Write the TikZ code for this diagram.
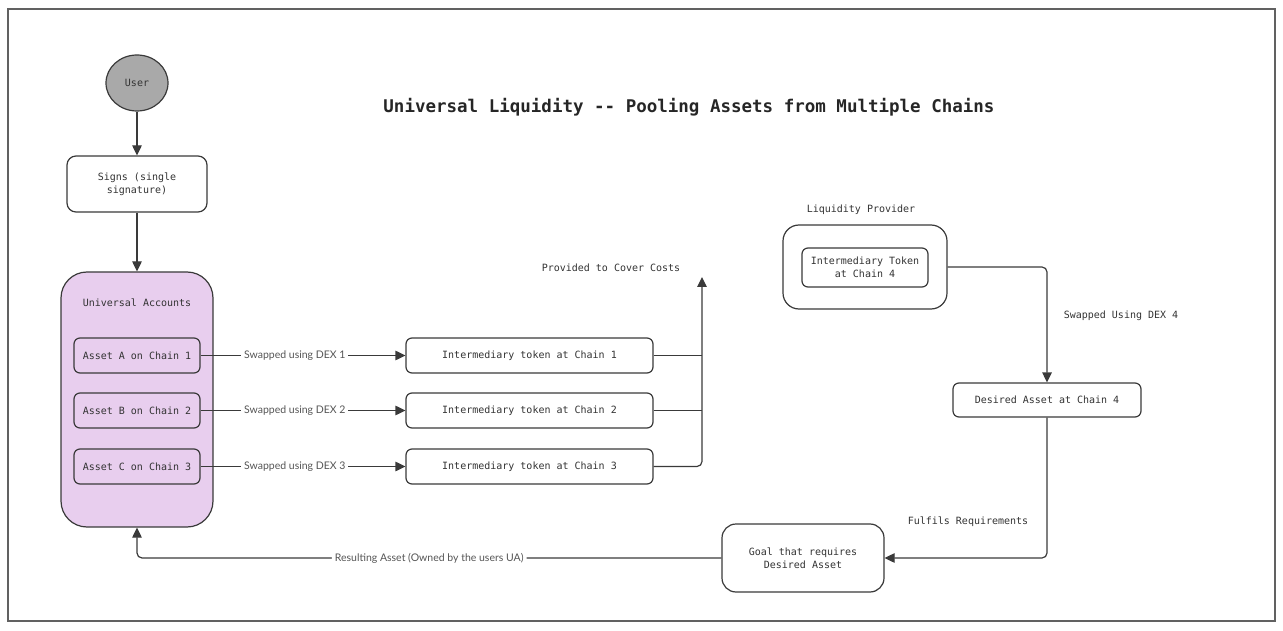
\documentclass[tikz,border=0pt]{standalone}
\usepackage{fontspec}
\setmonofont{DejaVu Sans Mono}
\newfontfamily\lblfont{Lato}
\usetikzlibrary{arrows.meta,shapes.geometric}
\definecolor{ln}{HTML}{3A3A3A}
\definecolor{txt}{HTML}{333333}
\definecolor{lbl}{HTML}{555555}
\definecolor{uafill}{RGB}{232,206,238}
\definecolor{userfill}{HTML}{A9A9A9}
\begin{document}
\begin{tikzpicture}[x=1pt,y=-1pt,
  every node/.style={font=\fontsize{10}{13.3}\selectfont\ttfamily, text=txt},
  boxs/.style={draw=ln, line width=1.2pt, rounded corners=#1, fill=white, inner sep=0pt, align=center},
  boxs/.default=6pt,
  arr/.style={draw=ln, line width=1.2pt, -{Triangle[length=10pt,width=9.5pt]}},
  ln/.style={draw=ln, line width=1.2pt},
  elab/.style={font=\fontsize{10.5}{12}\selectfont\lblfont, text=lbl, fill=white, inner sep=3pt},
  plab/.style={inner sep=0pt}
]
\useasboundingbox (0,0) rectangle (1283,631);
\draw[draw=ln!80!white, line width=1.2pt] (8,9) rectangle (1275,621);

\node[plab, font=\fontsize{17.5}{20}\selectfont\ttfamily\bfseries, text=black!85] (title) at (689,107) {Universal Liquidity -- Pooling Assets from Multiple Chains};

\node[ellipse, draw=ln, line width=1.2pt, fill=userfill, minimum width=62pt, minimum height=56pt, inner sep=0pt] (user) at (137,83) {User};
\node[boxs=9pt, minimum width=140pt, minimum height=56pt] (signs) at (137,184) {Signs (single\\signature)};
\node[boxs=26pt, fill=uafill, minimum width=152pt, minimum height=255pt] (ua) at (137,399.5) {};
\node[plab] (ualab) at (137,303) {Universal Accounts};
\node[boxs, fill=uafill, minimum width=126pt, minimum height=35pt] (assetA) at (137,355.5) {Asset A on Chain 1};
\node[boxs, fill=uafill, minimum width=126pt, minimum height=35pt] (assetB) at (137,410.5) {Asset B on Chain 2};
\node[boxs, fill=uafill, minimum width=126pt, minimum height=35pt] (assetC) at (137,466.5) {Asset C on Chain 3};

\node[boxs, minimum width=247pt, minimum height=35pt] (int1) at (529.5,355.5) {Intermediary token at Chain 1};
\node[boxs, minimum width=247pt, minimum height=35pt] (int2) at (529.5,410.5) {Intermediary token at Chain 2};
\node[boxs, minimum width=247pt, minimum height=35pt] (int3) at (529.5,466.5) {Intermediary token at Chain 3};

\coordinate (costs) at (702,277);
\node[plab] (costlab) at (611,268) {Provided to Cover Costs};

\node[plab] (lplab) at (861,210) {Liquidity Provider};
\node[boxs=16pt, minimum width=164pt, minimum height=84pt] (lpo) at (865,267) {};
\node[boxs, minimum width=126pt, minimum height=39pt] (lpi) at (865,267.5) {Intermediary Token\\at Chain 4};

\node[boxs, minimum width=188pt, minimum height=34pt] (desired) at (1047,400) {Desired Asset at Chain 4};
\node[boxs=14pt, minimum width=162pt, minimum height=68pt] (goal) at (803,558) {Goal that requires\\Desired Asset};

\node[plab] (dex4) at (1121,316) {Swapped Using DEX 4};
\node[plab] (fulf) at (968,522) {Fulfils Requirements};

\draw[arr] (user.south) -- (signs.north);
\draw[arr] (signs.south) -- (ua.north);

\draw[arr] (assetA.east) -- node[elab, pos=0.46]{Swapped using DEX 1} (int1.west);
\draw[arr] (assetB.east) -- node[elab, pos=0.46]{Swapped using DEX 2} (int2.west);
\draw[arr] (assetC.east) -- node[elab, pos=0.46]{Swapped using DEX 3} (int3.west);

\draw[ln] (int1.east) -- (int1.east -| costs);
\draw[ln] (int2.east) -- (int2.east -| costs);
\draw[arr, rounded corners=5pt] (int3.east) -| (costs);

\draw[arr, rounded corners=5pt] (lpo.east) -| (desired.north);
\draw[arr, rounded corners=5pt] (desired.south) |- (goal.east);
\draw[arr, rounded corners=5pt] (goal.west) -| node[elab, pos=0.25]{Resulting Asset (Owned by the users UA)} (ua.south);
\end{tikzpicture}
\end{document}
